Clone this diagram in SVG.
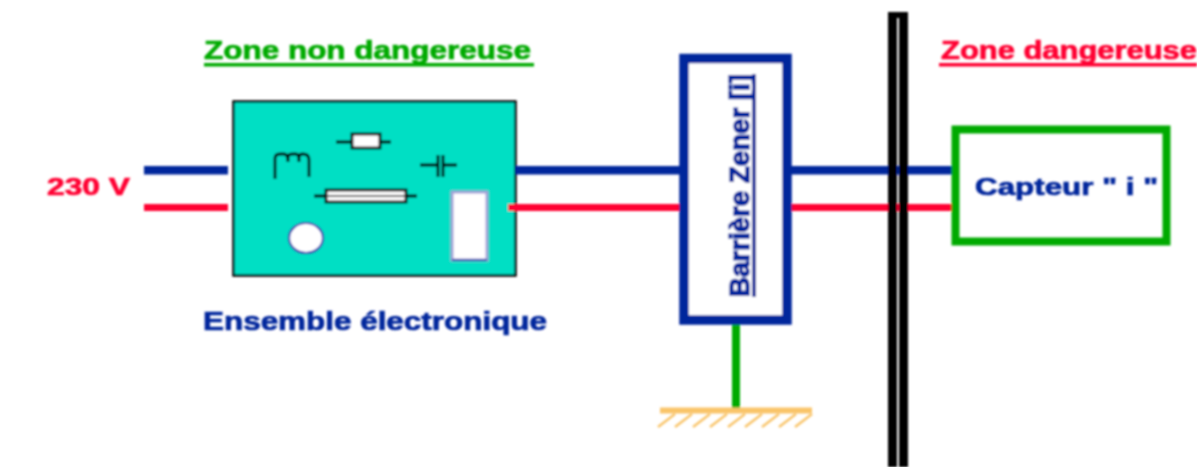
<svg xmlns="http://www.w3.org/2000/svg" width="1197" height="467" viewBox="0 0 1197 467">
<defs>
<filter id="soft" x="0" y="0" width="1197" height="467" filterUnits="userSpaceOnUse"><feGaussianBlur stdDeviation="0.8"/></filter>
</defs>
<style>
text{font-family:"Liberation Sans",Arial,sans-serif;font-weight:bold;stroke-width:0.7}
.blue{fill:#00269c;stroke:#00269c}.red{fill:#ff0033;stroke:#ff0033}.green{fill:#00aa00;stroke:#00aa00}
.sym{fill:none;stroke:#000;stroke-width:2.800}
.hatch{stroke:#f9c469;stroke-width:2.500;fill:none}
</style>
<rect width="1197" height="467" fill="#fff"/>
<g filter="url(#soft)">
<g id="ensemble">
<rect x="233.500" y="101.500" width="282" height="174" fill="#00dfc4" stroke="#000" stroke-width="2.500"/>
<path class="sym" d="M336 142H352M380 142H391"/>
<rect class="sym" x="352" y="134" width="28" height="14" style="fill:#fff"/>
<path class="sym" d="M275 179V158Q275 154 281 154H284Q288 154 288 162M288 162V157Q288 154 293 154H296Q299 154 299 162M299 162V157Q299 154 303 154Q309 154 309 160V177"/>
<path class="sym" d="M420 165H437M444 165H457M438 155V177M443 155V177"/>
<path class="sym" d="M314 196H326M405 196H417"/>
<rect class="sym" x="326" y="190" width="80" height="12" style="fill:#fff"/>
<path d="M326 196H406" stroke="#222" stroke-width="1.500" fill="none"/>
<ellipse cx="306" cy="238" rx="17" ry="15" fill="#fff" stroke="#2a3fb0" stroke-width="2.200"/>
<rect x="452" y="192" width="35" height="68" fill="#fff" stroke="#a0a0d6" stroke-width="3"/>
<path d="M452 260H487" stroke="#2a3fb0" stroke-width="2"/>
</g>
<g id="connectors">
<rect x="144" y="166" width="84" height="8.500" fill="#00269c"/>
<rect x="144" y="204" width="84" height="7" fill="#ff0033"/>
<rect x="515" y="166" width="166" height="8.500" fill="#00269c"/>
<rect x="508" y="204" width="173" height="7" fill="#ff0033"/>
<rect x="789" y="166" width="168" height="8.500" fill="#00269c"/>
<rect x="789" y="204" width="168" height="7" fill="#ff0033"/>
<rect x="732" y="322" width="8" height="87" fill="#00aa00"/>
</g>
<g id="barriere-zone">
<rect x="888" y="12" width="9" height="455" fill="#000"/>
<rect x="899" y="12" width="9" height="455" fill="#000"/>
<rect x="896" y="12" width="4" height="6" fill="#000"/>
</g>
<g id="label-230v"><text x="47" y="195" font-size="24" class="red" textLength="83" lengthAdjust="spacingAndGlyphs">230 V</text></g>
<g id="zone-non-dangereuse">
<text x="204" y="59" font-size="25" class="green" textLength="327" lengthAdjust="spacingAndGlyphs">Zone non dangereuse</text>
<rect x="204" y="63" width="330" height="3.500" fill="#00aa00"/>
</g>
<g id="zone-dangereuse">
<text x="941" y="59" font-size="25" class="red" textLength="256" lengthAdjust="spacingAndGlyphs">Zone dangereuse</text>
<rect x="939" y="63" width="258" height="3.500" fill="#ff0033"/>
</g>
<g id="label-ensemble"><text x="203" y="330" font-size="25" class="blue" textLength="344" lengthAdjust="spacingAndGlyphs">Ensemble électronique</text></g>
<g id="barriere-zener">
<rect x="684" y="58.500" width="103" height="261.500" fill="#fff" stroke="#00269c" stroke-width="9.500"/>
<g font-size="28" transform="translate(749 297) rotate(-90)">
<text x="0" y="0" class="blue" style="stroke-width:1.400;font-weight:bold" textLength="223" lengthAdjust="spacingAndGlyphs">Barrière Zener [i]</text>
</g>
<rect x="752" y="74" width="4" height="223" fill="#00269c"/>
</g>
<g id="capteur">
<rect x="955.500" y="129.500" width="211" height="112" fill="none" stroke="#00aa00" stroke-width="8"/>
<text x="975" y="195" font-size="24" class="blue" textLength="183" lengthAdjust="spacingAndGlyphs">Capteur " i "</text>
</g>
<g id="terre">
<rect x="660" y="407.500" width="152" height="6" fill="#f9c469"/>
<path class="hatch" d="M675 414L658 427M692 414L675 427M710 414L693 427M727 414L710 427M745 414L728 427M762 414L745 427M779 414L762 427M796 414L779 427M812 414L795 427"/>
</g>
</g>
</svg>
